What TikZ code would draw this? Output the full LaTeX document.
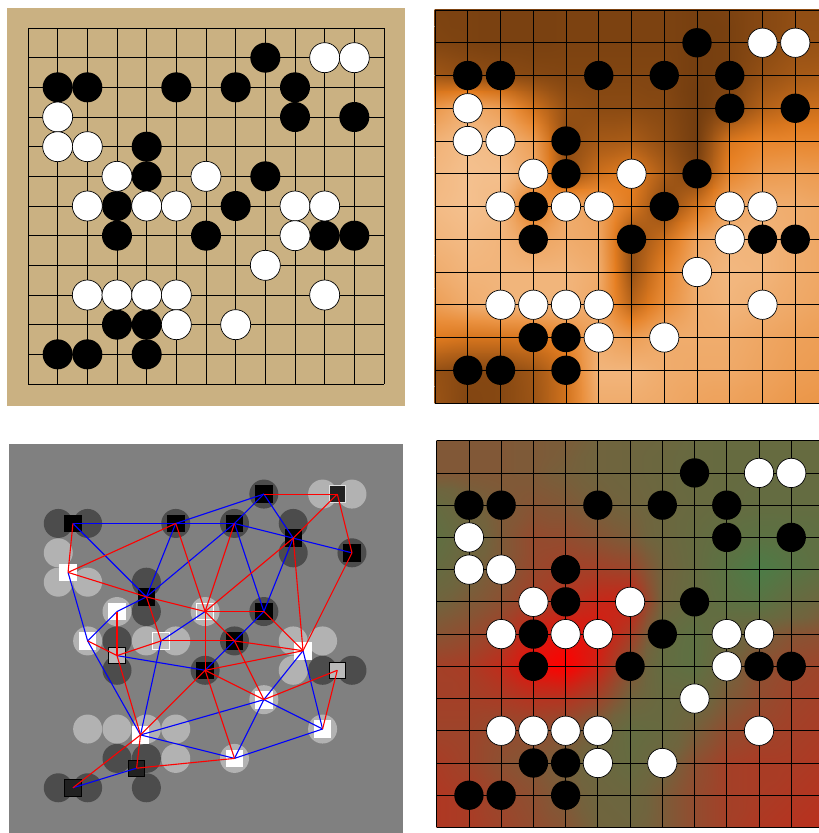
\documentclass[tikz,border=0pt]{standalone}
\usetikzlibrary{shadings}

\definecolor{boardTan}{RGB}{202,177,130}
\definecolor{infLow}{RGB}{104,55,14}
\definecolor{infMid}{RGB}{230,126,32}
\definecolor{infHigh}{RGB}{245,198,152}
\definecolor{ownLow}{RGB}{60,134,74}
\definecolor{ownMid}{RGB}{112,100,62}
\definecolor{ownHigh}{RGB}{255,0,0}

% stones as col/row on the 13x13 board
\newcommand\blackStones{8/1,1/2,2/2,5/2,7/2,9/2,9/3,11/3,4/4,4/5,8/5,3/6,7/6,3/7,6/7,10/7,11/7,3/10,4/10,1/11,2/11,4/11}
\newcommand\whiteStones{10/1,11/1,1/3,1/4,2/4,3/5,6/5,2/6,4/6,5/6,9/6,10/6,9/7,8/8,2/9,3/9,4/9,5/9,10/9,5/10,7/10}

% heat values on the board points, 0 low .. 100 high
\newcommand\heatInf{%
 {8,8,7,7,8,8,8,8,6,8,12,16,16},%
 {10,8,7,7,8,8,8,8,6,7,13,18,18},%
 {22,16,14,12,10,10,10,10,5,8,18,24,26},%
 {68,84,72,42,18,14,14,12,4,12,30,38,40},%
 {86,95,90,72,15,24,26,16,4,45,55,56,56},%
 {90,96,95,82,16,40,52,26,8,56,70,72,70},%
 {92,96,92,45,82,74,46,12,44,78,85,82,78},%
 {88,92,88,76,82,78,16,40,76,88,88,82,78},%
 {82,88,88,88,88,82,18,55,84,90,88,82,78},%
 {72,82,88,88,88,78,32,62,82,88,85,80,76},%
 {48,44,44,46,56,82,72,82,82,82,78,74,72},%
 {18,12,12,22,42,88,88,82,80,80,76,72,70},%
 {20,10,12,20,42,82,82,80,76,75,72,68,66}}
\newcommand\heatOwn{%
 {56,56,56,55,54,50,48,46,42,40,40,40,40},%
 {56,56,56,55,52,50,48,45,42,40,40,40,40},%
 {40,50,55,58,56,52,50,46,42,40,38,38,38},%
 {34,46,55,63,62,58,54,46,40,35,30,32,35},%
 {40,50,56,64,68,68,66,50,40,28,15,26,35},%
 {50,55,60,68,74,80,84,48,40,32,28,40,48},%
 {58,62,68,84,92,88,70,40,32,44,52,58,60},%
 {68,70,78,95,100,82,58,38,32,50,60,64,66},%
 {68,68,70,74,74,66,50,42,44,55,62,66,68},%
 {66,66,62,62,58,50,38,42,52,62,66,68,70},%
 {70,66,60,56,52,46,40,48,60,68,70,70,72},%
 {72,70,64,60,55,48,46,54,62,68,70,72,74},%
 {72,70,66,62,58,50,48,54,62,68,72,74,76}}

% store the values, then mix a colour for every half step
\newcommand\makeHeat[5]{%
  \foreach \heatRow [count=\hr from 0] in #2 {%
    \foreach \heatVal [count=\hc from 0] in \heatRow {%
      \expandafter\xdef\csname hv#1\hr X\hc\endcsname{\heatVal}}}%
  \foreach \hR in {0,...,24} {%
    \foreach \hC in {0,...,24} {%
      \pgfmathtruncatemacro\heatRa{\hR/2}\pgfmathtruncatemacro\heatRb{(\hR+1)/2}%
      \pgfmathtruncatemacro\heatCa{\hC/2}\pgfmathtruncatemacro\heatCb{(\hC+1)/2}%
      \edef\heatSum{\csname hv#1\heatRa X\heatCa\endcsname+\csname hv#1\heatRa X\heatCb\endcsname+\csname hv#1\heatRb X\heatCa\endcsname+\csname hv#1\heatRb X\heatCb\endcsname}%
      \pgfmathtruncatemacro\heatV{(\heatSum)/4}%
      \ifnum\heatV<50
        \pgfmathtruncatemacro\heatP{2*\heatV}%
        \edef\heatDo{\noexpand\xglobal\noexpand\colorlet{hc#1\hR X\hC}{#4!\heatP!#3}}%
      \else
        \pgfmathtruncatemacro\heatP{2*\heatV-100}%
        \edef\heatDo{\noexpand\xglobal\noexpand\colorlet{hc#1\hR X\hC}{#5!\heatP!#4}}%
      \fi
      \heatDo}}}
% bilinear patches between those colours
\newcommand\drawHeat[1]{%
  \foreach \hR in {0,...,23} {%
    \foreach \hC in {0,...,23} {%
      \pgfmathtruncatemacro\hRn{\hR+1}\pgfmathtruncatemacro\hCn{\hC+1}%
      \shade[upper left=hc#1\hR X\hC, upper right=hc#1\hR X\hCn,
             lower left=hc#1\hRn X\hC, lower right=hc#1\hRn X\hCn]
        (\hC/2-0.01,\hR/2-0.01) rectangle (\hCn/2+0.01,\hRn/2+0.01);}}}

\makeHeat{I}{\heatInf}{infLow}{infMid}{infHigh}
\makeHeat{O}{\heatOwn}{ownLow}{ownMid}{ownHigh}

\begin{document}
\begin{tikzpicture}[x=1pt, y=-1pt,
    goLine/.style={black, line width=0.8pt},
    goBlack/.style={circle, fill=black, inner sep=0pt, minimum size=#1},
    goWhite/.style={circle, fill=white, draw=black, line width=0.7pt, inner sep=0pt, minimum size=#1},
    grpDot/.style={circle, inner sep=0pt, minimum size=29pt},
    grpBox/.style={rectangle, inner sep=0pt, minimum size=16.5pt, line width=0.8pt},
    grpB/.style={grpBox, fill=black, draw=black},
    grpW/.style={grpBox, fill=white, draw=white},
    grpBd/.style={grpBox, fill=black!87, draw=black},
    grpBl/.style={grpBox, fill=black!27, draw=black},
    grpWd/.style={grpBox, fill=black!87, draw=white!88!black},
    grpWl/.style={grpBox, fill=black!24, draw=white},
    linkSame/.style={blue, line width=1.1pt},
    linkOpp/.style={red, line width=1.1pt},
]
\useasboundingbox (0,0) rectangle (819,833);
\fill[white] (0,0) rectangle (819,833);

% plain board
\fill[boardTan] (7,8) rectangle (405,406);
\begin{scope}[shift={(28,28)}, x=29.667pt, y=-29.667pt]
  \foreach \i in {0,...,12} {
    \draw[goLine] (\i,0) -- (\i,12);
    \draw[goLine] (0,\i) -- (12,\i);
  }
  \foreach \c/\r in \blackStones \node[goBlack=30pt] (pb\c-\r) at (\c,\r) {};
  \foreach \c/\r in \whiteStones \node[goWhite=30pt] (pw\c-\r) at (\c,\r) {};
\end{scope}

% influence map
\begin{scope}
  \clip (434.5,9.5) rectangle (819,403.5);
  \begin{scope}[shift={(435,10)}, x=32.75pt, y=-32.75pt]
    \drawHeat{I}
    \foreach \i in {0,...,12} {
      \draw[goLine] (\i,0) -- (\i,12);
      \draw[goLine] (0,\i) -- (12,\i);
    }
    \foreach \c/\r in \blackStones \node[goBlack=29.3pt] (ib\c-\r) at (\c,\r) {};
    \foreach \c/\r in \whiteStones \node[goWhite=29.3pt] (iw\c-\r) at (\c,\r) {};
  \end{scope}
\end{scope}

% group graph
\fill[black!50] (9,444) rectangle (403,833);
\begin{scope}[shift={(28.9,464.7)}, x=29.37pt, y=-29.37pt]
  \foreach \c/\r in \blackStones \node[grpDot, fill=black!70] (gb\c-\r) at (\c,\r) {};
  \foreach \c/\r in \whiteStones \node[grpDot, fill=black!30] (gw\c-\r) at (\c,\r) {};
  \node[grpB] (g1) at (1.5,2) {};
  \node[grpB] (g2) at (5,2) {};
  \node[grpB] (g3) at (7,2) {};
  \node[grpB] (g4) at (8,1) {};
  \node[grpWd] (g5) at (10.5,1) {};
  \node[grpB] (g6) at (9,2.5) {};
  \node[grpB] (g7) at (11,3) {};
  \node[grpW] (g8) at (1.333,3.667) {};
  \node[grpB] (g9) at (4,4.5) {};
  \node[grpW] (g10) at (3,5) {};
  \node[grpWl] (g11) at (6,5) {};
  \node[grpB] (g12) at (8,5) {};
  \node[grpW] (g13) at (2,6) {};
  \node[grpBl] (g14) at (3,6.5) {};
  \node[grpWl] (g15) at (4.5,6) {};
  \node[grpB] (g16) at (7,6) {};
  \node[grpB] (g17) at (6,7) {};
  \node[grpW] (g18) at (9.333,6.333) {};
  \node[grpBl] (g19) at (10.5,7) {};
  \node[grpW] (g20) at (8,8) {};
  \node[grpW] (g21) at (3.8,9.2) {};
  \node[grpW] (g22) at (10,9) {};
  \node[grpW] (g23) at (7,10) {};
  \node[grpBd] (g24) at (3.667,10.333) {};
  \node[grpBd] (g25) at (1.5,11) {};
  \foreach \a/\b in {1/2,2/3,2/4,3/4,3/6,6/7,4/6,3/9,2/9,1/9,3/12,6/12,12/16,16/17,14/17,8/13,10/13,9/10,13/21,11/15,15/21,18/20,18/22,20/21,20/22,20/23,21/23,22/23,24/25}
    \draw[linkSame] (g\a.center) -- (g\b.center);
  \foreach \a/\b in {4/5,5/6,5/7,7/18,6/18,6/11,1/8,2/8,8/9,9/11,2/11,3/11,9/15,10/14,13/14,14/15,14/21,15/16,11/12,11/17,11/16,12/18,16/18,16/20,17/18,17/20,17/21,17/23,19/20,19/22,21/24,21/25,23/24}
    \draw[linkOpp] (g\a.center) -- (g\b.center);
\end{scope}

% ownership map
\begin{scope}
  \clip (436.2,440.2) rectangle (819,828);
  \begin{scope}[shift={(436.7,440.7)}, x=32.23pt, y=-32.23pt]
    \drawHeat{O}
    \foreach \i in {0,...,12} {
      \draw[goLine] (\i,0) -- (\i,12);
      \draw[goLine] (0,\i) -- (12,\i);
    }
    \foreach \c/\r in \blackStones \node[goBlack=29.3pt] (ob\c-\r) at (\c,\r) {};
    \foreach \c/\r in \whiteStones \node[goWhite=29.3pt] (ow\c-\r) at (\c,\r) {};
  \end{scope}
\end{scope}
\end{tikzpicture}
\end{document}
